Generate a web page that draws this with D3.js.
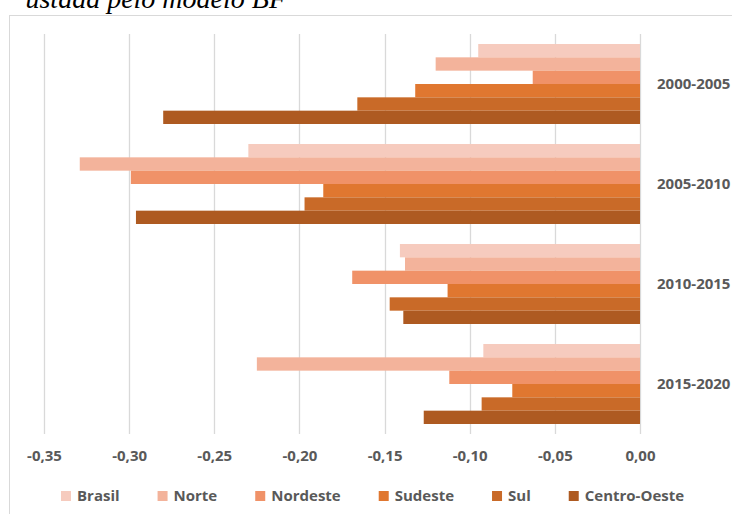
<!DOCTYPE html>
<html>
<head>
<meta charset="utf-8">
<script src="https://cdn.jsdelivr.net/npm/d3@7"></script>
<style>
  html, body { margin: 0; padding: 0; background: #fff; }
  svg { display: block; }
</style>
</head>
<body>
<svg id="chart" width="732" height="514"></svg>
<script>
// Periods (categories) and regional series, values read as rates
const periods = ["2000-2005", "2005-2010", "2010-2015", "2015-2020"];
const seriesNames = ["Brasil", "Norte", "Nordeste", "Sudeste", "Sul", "Centro-Oeste"];
const brasil      = [-0.095, -0.230, -0.141, -0.092];
const norte       = [-0.120, -0.329, -0.138, -0.225];
const nordeste    = [-0.063, -0.299, -0.169, -0.112];
const sudeste     = [-0.132, -0.186, -0.113, -0.075];
const sul         = [-0.166, -0.197, -0.147, -0.093];
const centroOeste = [-0.280, -0.296, -0.139, -0.127];
const xTicks = [-0.35, -0.30, -0.25, -0.20, -0.15, -0.10, -0.05, 0.00];
const colors = ["#F6CBBE", "#F3B39B", "#F09268", "#E07730", "#C96A28", "#AE5A21"];

const seriesValues = [brasil, norte, nordeste, sudeste, sul, centroOeste];
const rows = [];
periods.forEach((p, i) => {
  seriesNames.forEach((s, j) => rows.push({ period: p, series: s, value: seriesValues[j][i], idx: j }));
});

const svg = d3.select("#chart");
const plot = { left: 44, right: 640, top: 34, bottom: 434 };
const labelFont = "'Open Sans', 'DejaVu Sans', sans-serif";
const textColor = "#595959";

// Chart frame
svg.append("rect")
  .attr("x", 9.5).attr("y", 15.5)
  .attr("width", 760).attr("height", 520)
  .attr("fill", "#fff").attr("stroke", "#D9D9D9").attr("stroke-width", 1);

// Heading line above the chart
svg.append("text")
  .attr("x", 286).attr("y", 8)
  .attr("text-anchor", "end")
  .attr("font-family", "'Liberation Serif', 'Times New Roman', serif")
  .attr("font-style", "italic")
  .attr("font-size", 28)
  .attr("fill", "#000")
  .text("ustada pelo modelo BF");

const x = d3.scaleLinear().domain([-0.35, 0]).range([plot.left, plot.right]);
const y0 = d3.scaleBand().domain(periods).range([plot.top, plot.bottom]).paddingInner(0.2).paddingOuter(0.1);
const y1 = d3.scaleBand().domain(seriesNames).range([0, y0.bandwidth()]);
const color = d3.scaleOrdinal().domain(seriesNames).range(colors);

// Vertical gridlines
svg.append("g")
  .selectAll("line")
  .data(xTicks)
  .join("line")
  .attr("x1", d => Math.round(x(d)) + 0.5)
  .attr("x2", d => Math.round(x(d)) + 0.5)
  .attr("y1", plot.top).attr("y2", plot.bottom)
  .attr("stroke", "#D9D9D9").attr("stroke-width", 1.3);

// Bars
svg.append("g")
  .selectAll("rect")
  .data(rows)
  .join("rect")
  .attr("x", d => x(d.value))
  .attr("width", d => x(0) - x(d.value))
  .attr("y", d => y0(d.period) + y1(d.series))
  .attr("height", y1.bandwidth())
  .attr("fill", d => color(d.series));

// X axis tick labels
const xAxis = d3.axisBottom(x)
  .tickValues(xTicks)
  .tickSize(0)
  .tickFormat(d => d3.format(".2f")(d).replace("−", "-").replace(".", ","));
const gx = svg.append("g")
  .attr("transform", `translate(0, ${plot.bottom})`)
  .call(xAxis);
gx.select(".domain").remove();
gx.selectAll("text")
  .attr("y", 22)
  .attr("dy", "0.32em")
  .attr("font-family", labelFont)
  .attr("font-weight", 700)
  .attr("font-size", 15)
  .attr("fill", textColor);

// Period labels to the right of the bars
const yAxis = d3.axisRight(y0).tickSize(0);
const gy = svg.append("g")
  .attr("transform", `translate(${plot.right}, 0)`)
  .call(yAxis);
gy.select(".domain").remove();
gy.selectAll("text")
  .attr("x", 17)
  .attr("dy", "0.32em")
  .attr("text-anchor", "start")
  .attr("font-family", labelFont)
  .attr("font-weight", 700)
  .attr("font-size", 15)
  .attr("fill", textColor);

// Legend
const legend = svg.append("g").attr("transform", "translate(61, 496)");
let cursor = 0;
seriesNames.forEach(name => {
  const item = legend.append("g").attr("transform", `translate(${cursor}, 0)`);
  item.append("rect")
    .attr("x", 0).attr("y", -5)
    .attr("width", 10).attr("height", 10)
    .attr("fill", color(name));
  const t = item.append("text")
    .attr("x", 16).attr("y", 0)
    .attr("dy", "0.35em")
    .attr("font-family", labelFont)
    .attr("font-weight", 700)
    .attr("font-size", 15)
    .attr("fill", textColor)
    .text(name);
  cursor += 16 + t.node().getComputedTextLength() + 38;
});
</script>
</body>
</html>
